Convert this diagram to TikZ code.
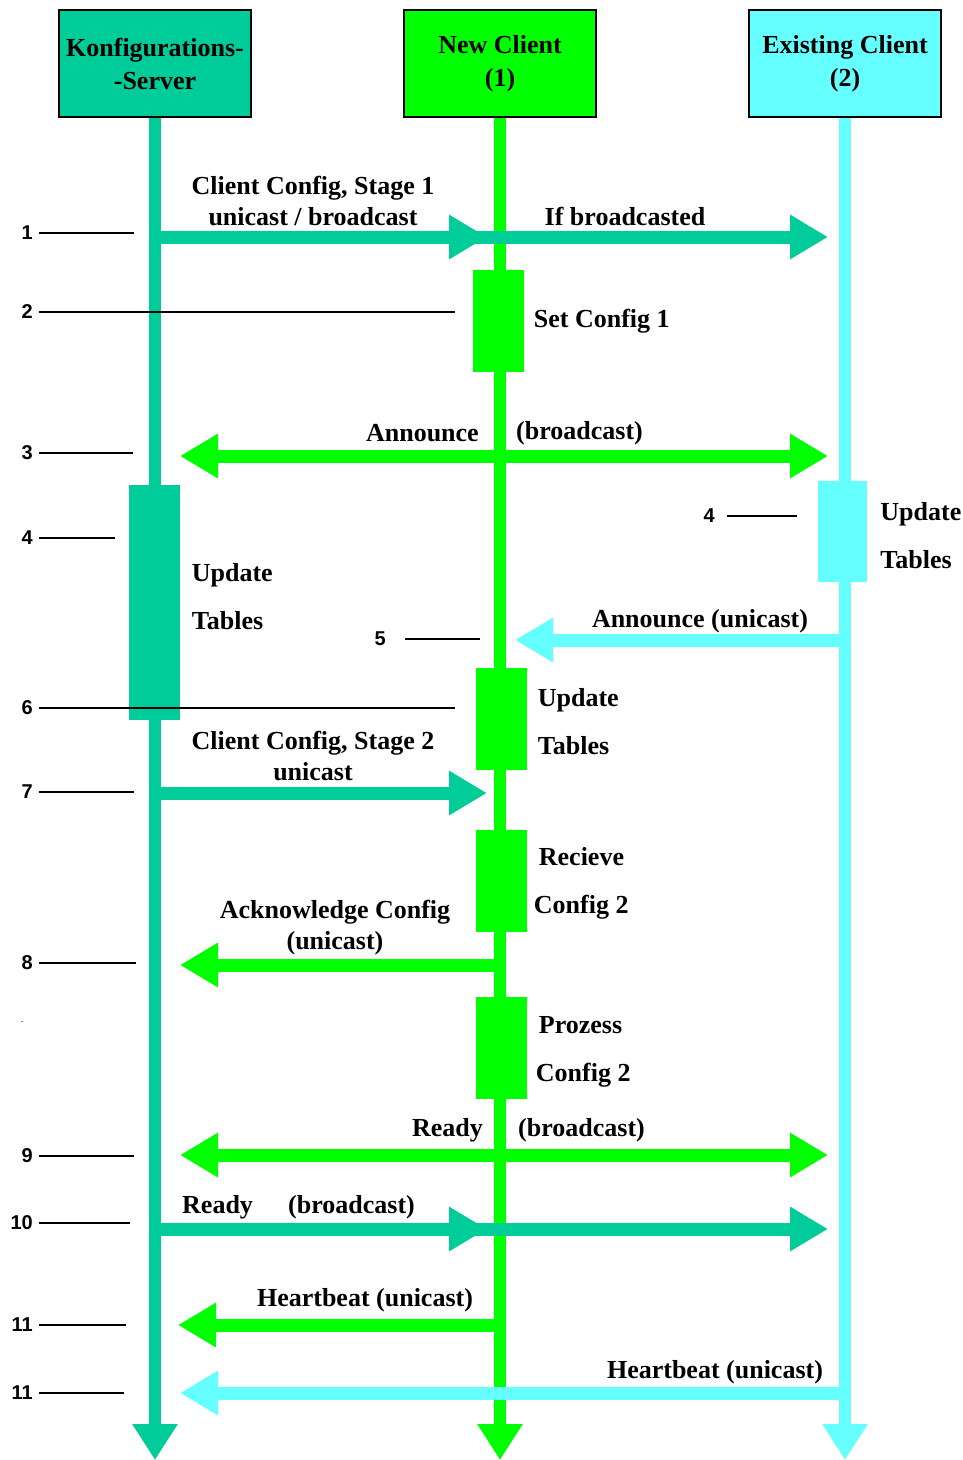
\documentclass[tikz,border=0pt]{standalone}
\usepackage{fontspec}
\setmainfont{Liberation Serif}
\newfontfamily\numfont{Liberation Sans}
\usetikzlibrary{arrows.meta, positioning}
\definecolor{srvteal}{RGB}{0,204,153}
\definecolor{newgreen}{RGB}{0,255,0}
\definecolor{excyan}{RGB}{102,255,255}

\begin{document}
\begin{tikzpicture}[x=1pt, y=-1pt,
  head/.style={rectangle, draw=black, line width=1.5pt, minimum width=192pt, minimum height=107pt, align=center, inner sep=0pt, font=\fontsize{26}{33}\selectfont\bfseries},
  life/.style={line width=12pt, -{Triangle[length=36pt,width=43pt]}},
  msg/.style={line width=13pt, -{Triangle[length=38pt,width=42pt]}},
  both/.style={line width=13pt, {Triangle[length=38pt,width=42pt]}-{Triangle[length=38pt,width=42pt]}},
  act/.style={rectangle, minimum width=51pt, inner sep=0pt},
  txt/.style={inner sep=1pt, align=center, font=\fontsize{26}{31}\selectfont\bfseries},
  acttxt/.style={inner sep=1pt, align=left, font=\fontsize{26}{48}\selectfont\bfseries},
  num/.style={anchor=east, inner sep=0pt, font=\numfont\fontsize{20}{22}\selectfont\bfseries},
  tick/.style={line width=1.3pt, draw=black, shorten <=6pt}
]
\useasboundingbox (0,0) rectangle (963,1460);

% participants
\node[head, fill=srvteal] (srv) at (155,63.5) {Konfigurations-\\-Server};
\node[head, fill=newgreen] (newc) at (500,63.5) {\raisebox{-2pt}{New Client}\\\raisebox{-2pt}{(1)}};
\node[head, fill=excyan] (exc) at (845,63.5) {\raisebox{-2pt}{Existing Client}\\\raisebox{-2pt}{(2)}};
\coordinate (srvend) at (155,1460);
\coordinate (newend) at (500,1460);
\coordinate (excend) at (845,1460);
\draw[life, srvteal] (srv) -- (srvend);
\draw[life, newgreen] (newc) -- (newend);
\draw[life, excyan] (exc) -- (excend);

% message end points
\coordinate (a1s) at (155,237);
\coordinate (a1m) at (487,237);
\coordinate (a1j) at (470,237);
\coordinate (a1e) at (828,237);
\coordinate (a3s) at (180,456);
\coordinate (a3e) at (828,456);
\coordinate (a5s) at (845,640);
\coordinate (a5e) at (515,640);
\coordinate (a7s) at (155,793);
\coordinate (a7e) at (487,793);
\coordinate (a8s) at (500,965);
\coordinate (a8e) at (180,965);
\coordinate (a9s) at (180,1155);
\coordinate (a9e) at (828,1155);
\coordinate (a10s) at (155,1229);
\coordinate (a10m) at (487,1229);
\coordinate (a10j) at (470,1229);
\coordinate (a10e) at (828,1229);
\coordinate (a11s) at (500,1325);
\coordinate (a11e) at (178,1325);
\coordinate (a12s) at (845,1393);
\coordinate (a12e) at (180,1393);

% messages
\draw[msg, srvteal] (a1s) -- (a1m);
\draw[msg, srvteal] (a1j) -- (a1e);
\draw[both, newgreen] (a3s) -- (a3e);
\draw[msg, excyan] (a5s) -- (a5e);
\draw[msg, srvteal] (a7s) -- (a7e);
\draw[msg, newgreen] (a8s) -- (a8e);
\draw[both, newgreen] (a9s) -- (a9e);
\draw[msg, srvteal] (a10s) -- (a10m);
\draw[msg, srvteal] (a10j) -- (a10e);
\draw[msg, newgreen] (a11s) -- (a11e);
\draw[msg, excyan] (a12s) -- (a12e);

% activations
\node[act, fill=newgreen, minimum height=102pt] (set1) at (498,321) {};
\node[act, fill=srvteal, minimum height=235pt] (srvupd) at (154,602.5) {};
\node[act, fill=excyan, minimum width=49pt, minimum height=101pt] (excupd) at (842.5,531.5) {};
\node[act, fill=newgreen, minimum height=102pt] (newupd) at (501,719) {};
\node[act, fill=newgreen, minimum height=102pt] (recv) at (501,881) {};
\node[act, fill=newgreen, minimum height=102pt] (proc) at (501,1047.5) {};

\node[acttxt, right=9pt of set1] (set1t) {Set Config 1};
\node[acttxt, right=11pt of srvupd, yshift=6pt] (srvupdt) {Update\\Tables};
\node[acttxt, right=12pt of excupd, yshift=-4pt] (excupdt) {Update\\Tables};
\node[acttxt, right=10pt of newupd, yshift=-3pt] (newupdt) {Update\\Tables};
\node[acttxt, right=6pt of recv, yshift=-2pt] (recvt) {\hspace*{5pt}Recieve\\Config 2};
\node[acttxt, right=8pt of proc, yshift=-4pt] (proct) {\hspace*{3pt}Prozess\\Config 2};

% message labels
\node[txt] (l1) at (313,201) {Client Config, Stage 1\\unicast / broadcast};
\node[txt] (l1b) at (625,216) {If broadcasted};
\node[txt, anchor=east] (l3a) at (480,433) {Announce};
\node[txt, anchor=west] (l3b) at (515,433) {(broadcast)};
\node[txt] (l5) at (700,621) {Announce (unicast)};
\node[txt] (l7) at (313,756) {Client Config, Stage 2\\unicast};
\node[txt] (l8) at (335,928) {Acknowledge Config\\(unicast)};
\node[txt, anchor=east] (l9a) at (484,1130) {Ready};
\node[txt, anchor=west] (l9b) at (517,1130) {(broadcast)};
\node[txt, anchor=west] (l10a) at (181,1207) {Ready};
\node[txt, anchor=west] (l10b) at (287,1207) {(broadcast)};
\node[txt] (l11) at (365,1300) {Heartbeat (unicast)};
\node[txt] (l12) at (715,1372) {Heartbeat (unicast)};

% step numbers
\foreach \k/\n/\y/\e in {a/1/233/134, b/2/312/455, c/3/453/133, d/4/538/115, f/6/708/455, g/7/792/134, h/8/963/136, i/9/1156/134, j/10/1223/130, k/11/1325/126, l/11/1393/124}{
  \node[num] (n\k) at (33,\y) {\n};
  \coordinate (t\k) at (\e,\y);
  \draw[tick] (n\k) -- (t\k);
}
\node[num] (ne) at (715,516) {4};
\coordinate (te) at (797,516);
\draw[tick, shorten <=12pt] (ne) -- (te);
\node[num] (nm) at (386,639) {5};
\coordinate (tm) at (480,639);
\draw[tick, shorten <=19pt] (nm) -- (tm);
\node[font=\fontsize{10}{10}\selectfont, inner sep=0pt] (dot) at (22,1022) {.};
\end{tikzpicture}
\end{document}
